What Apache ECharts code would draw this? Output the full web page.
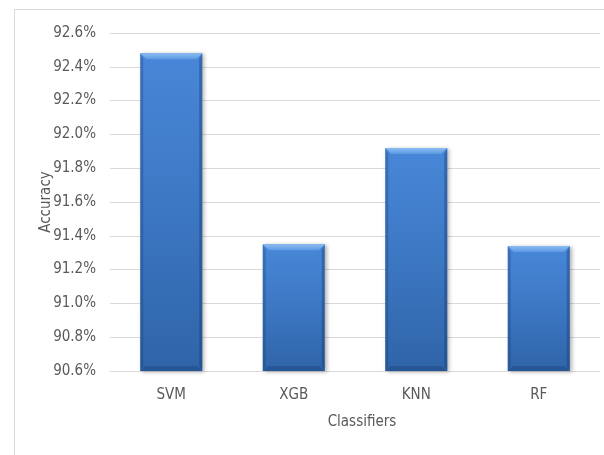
<!DOCTYPE html>
<html>
<head>
<meta charset="utf-8">
<style>
  html, body { margin: 0; padding: 0; background: #ffffff; }
  #chart { width: 604px; height: 455px; }
</style>
<script src="https://cdn.jsdelivr.net/npm/echarts@6/dist/echarts.min.js"></script>
</head>
<body>
<div id="chart"></div>
<script>
// Classifier accuracy (%)
const classifiers = ['SVM', 'XGB', 'KNN', 'RF'];
const accuracy = [92.48, 91.35, 91.92, 91.34];
const axisMin = 90.6;
const axisMax = 92.6;
const axisStep = 0.2;

const FONT = '"Liberation Sans Narrow", "DejaVu Sans Condensed", "Liberation Sans", sans-serif';
const TEXT = '#595959';
const LINE = '#d9d9d9';

// Bevelled column, drawn through the axis scales
function renderBevelBar(params, api) {
  const idx = api.value(0);
  const val = api.value(1);
  const top = api.coord([idx, val]);
  const base = api.coord([idx, axisMin]);
  const w = api.size([1, 0])[0] * 0.506;
  const x0 = top[0] - w / 2, x1 = top[0] + w / 2;
  const y0 = top[1], y1 = base[1];
  const b = 6, s = 3, bb = 5;
  return {
    type: 'group',
    children: [
      {
        type: 'rect',
        shape: { x: x0, y: y0, width: w, height: y1 - y0 },
        style: {
          fill: new echarts.graphic.LinearGradient(0, 0, 0, 1, [
            { offset: 0, color: '#4887d8' },
            { offset: 0.5, color: '#3c77c2' },
            { offset: 1, color: '#2f64a8' }
          ]),
          shadowBlur: 4,
          shadowOffsetX: 2,
          shadowOffsetY: 1,
          shadowColor: 'rgba(0,0,0,0.3)'
        }
      },
      {
        // left edge
        type: 'polygon',
        shape: { points: [[x0, y0], [x0 + s, y0 + b], [x0 + s, y1 - bb], [x0, y1]] },
        style: { fill: 'rgba(20,55,110,0.28)' }
      },
      {
        // right edge
        type: 'polygon',
        shape: { points: [[x1, y0], [x1 - s, y0 + b], [x1 - s, y1 - bb], [x1, y1]] },
        style: { fill: 'rgba(20,55,110,0.38)' }
      },
      {
        // top bevel
        type: 'polygon',
        shape: { points: [[x0, y0], [x1, y0], [x1 - b, y0 + b], [x0 + b, y0 + b]] },
        style: {
          fill: new echarts.graphic.LinearGradient(0, 0, 0, 1, [
            { offset: 0, color: '#8cbdf2' },
            { offset: 1, color: '#5c99e3' }
          ])
        }
      },
      {
        // bottom bevel
        type: 'polygon',
        shape: { points: [[x0, y1], [x1, y1], [x1 - bb, y1 - bb], [x0 + bb, y1 - bb]] },
        style: { fill: 'rgba(25,60,115,0.35)' }
      }
    ]
  };
}

const chart = echarts.init(document.getElementById('chart'), null, { renderer: 'canvas' });

chart.setOption({
  animation: false,
  backgroundColor: '#ffffff',
  graphic: [
    {
      type: 'rect',
      shape: { x: 14.5, y: 9.5, width: 800, height: 800 },
      style: { fill: 'none', stroke: LINE, lineWidth: 1 },
      silent: true,
      z: -10
    }
  ],
  grid: { left: 110, right: 4, top: 33, bottom: 84, containLabel: false },
  xAxis: {
    type: 'category',
    data: classifiers,
    name: 'Classifiers',
    nameLocation: 'middle',
    nameGap: 44,
    nameMoveOverlap: false,
    nameTextStyle: { color: TEXT, fontFamily: FONT, fontSize: 15, padding: [0, 0, 0, 14] },
    axisLine: { show: true, lineStyle: { color: LINE, width: 1 } },
    axisTick: { show: false },
    axisLabel: { color: TEXT, fontFamily: FONT, fontSize: 15, margin: 17 }
  },
  yAxis: {
    type: 'value',
    min: axisMin,
    max: axisMax,
    interval: axisStep,
    name: 'Accuracy',
    nameLocation: 'middle',
    nameGap: 56,
    nameMoveOverlap: false,
    nameTextStyle: { color: TEXT, fontFamily: FONT, fontSize: 15 },
    axisLine: { show: false },
    axisTick: { show: false },
    splitLine: { lineStyle: { color: LINE, width: 1 } },
    axisLabel: {
      color: TEXT,
      fontFamily: FONT,
      fontSize: 15,
      margin: 14,
      formatter: v => v.toFixed(1) + '%'
    }
  },
  series: [
    {
      type: 'custom',
      renderItem: renderBevelBar,
      encode: { x: 0, y: 1 },
      data: accuracy.map((v, i) => [i, v]),
      clip: false
    }
  ]
});
</script>
</body>
</html>
